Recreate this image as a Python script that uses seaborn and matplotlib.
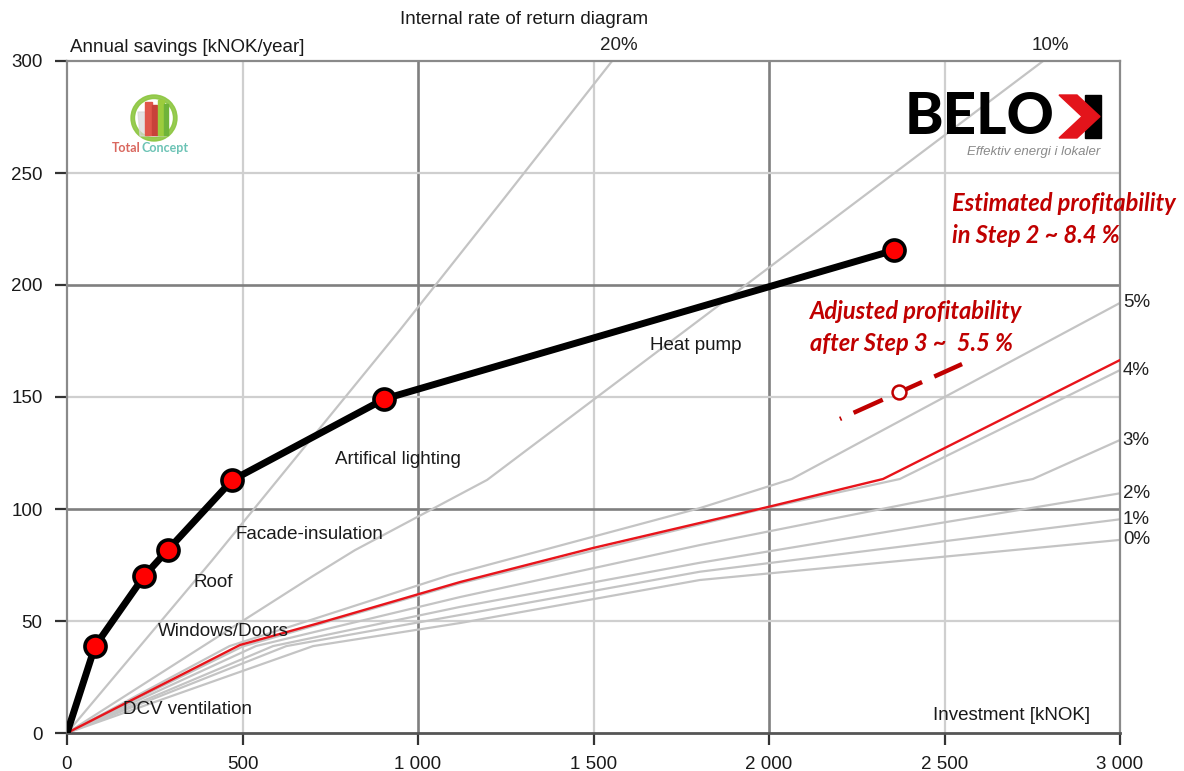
import matplotlib
matplotlib.use("Agg")
import matplotlib.pyplot as plt
import numpy as np
import pandas as pd
import seaborn as sns
from matplotlib.patches import Polygon, Rectangle, Wedge

# Measure path: cumulative investment [kNOK] vs annual savings [kNOK/year]
measures = ["Start", "DCV ventilation", "Windows/Doors", "Roof",
            "Facade-insulation", "Artifical lighting", "Heat pump"]
invest = [0, 80, 220, 287, 471, 904, 2356]
savings = [0, 38.8, 70.1, 81.7, 112.9, 149.1, 215.5]

# Internal-rate-of-return isolines (investment, savings)
irr_20_x = [0, 413, 949, 1242, 1553]
irr_20_y = [0, 77, 180, 238, 300]
irr_10_x = [0, 700, 820, 1197, 2781]
irr_10_y = [0, 70, 81.6, 113, 300]
irr_5_x = [0, 463, 721, 1091, 1803, 2065, 3000]
irr_5_y = [0, 38.8, 51.8, 70.5, 100.4, 113.4, 192]
irr_4_x = [0, 500, 1120, 1997, 2373, 3000]
irr_4_y = [0, 38.6, 66.8, 100.6, 113.4, 162]
irr_3_x = [0, 538, 721, 1120, 1803, 2752, 3000]
irr_3_y = [0, 38.8, 45.7, 60.7, 83.9, 113.4, 130.8]
irr_2_x = [0, 587, 721, 1120, 1803, 3000]
irr_2_y = [0, 38.8, 43.2, 56.3, 76.0, 107]
irr_1_x = [0, 625, 721, 1120, 1803, 3000]
irr_1_y = [0, 38.8, 41.5, 52.7, 72.0, 95.4]
irr_0_x = [0, 701, 1120, 1803, 3000]
irr_0_y = [0, 38.8, 49.1, 68.3, 86.2]

# Adjusted IRR curve (red)
adj_x = [0, 493, 721, 1120, 1499, 1997, 2325, 3000]
adj_y = [0, 39.3, 49.2, 67.4, 82.6, 100.9, 113.4, 166.5]

# Adjusted profitability marker
adj_mark_x = [2202, 2550]
adj_mark_y = [140.2, 164.7]
adj_point_x = [2370]
adj_point_y = [152.2]

x_ticks = [0, 500, 1000, 1500, 2000, 2500, 3000]
x_tick_labels = ["0", "500", "1 000", "1 500", "2 000", "2 500", "3 000"]
y_ticks = [0, 50, 100, 150, 200, 250, 300]

W, H = 1184, 771
sns.set_style("white")
plt.rcParams["font.family"] = ["Liberation Sans", "DejaVu Sans"]

FS = 13.5

fig = plt.figure(figsize=(W / 100, H / 100), dpi=100)
ax = fig.add_axes([67 / W, 38 / H, 1053 / W, 672 / H])
ax.set_xlim(0, 3000)
ax.set_ylim(0, 300)

# grid: dark at round thousands/hundreds, light in between
for xv in [500, 1500, 2500]:
    ax.axvline(xv, color="#cfcfcf", lw=1.6, zorder=0)
for xv in [1000, 2000]:
    ax.axvline(xv, color="#7f7f7f", lw=1.9, zorder=0)
for yv in [50, 150, 250]:
    ax.axhline(yv, color="#cfcfcf", lw=1.6, zorder=0)
for yv in [100, 200]:
    ax.axhline(yv, color="#7f7f7f", lw=1.9, zorder=0)

# IRR isolines
iso = [("20%", irr_20_x, irr_20_y), ("10%", irr_10_x, irr_10_y),
       ("5%", irr_5_x, irr_5_y), ("4%", irr_4_x, irr_4_y),
       ("3%", irr_3_x, irr_3_y), ("2%", irr_2_x, irr_2_y),
       ("1%", irr_1_x, irr_1_y), ("0%", irr_0_x, irr_0_y)]
for name, xs, ys in iso:
    df = pd.DataFrame({"x": xs, "y": ys})
    sns.lineplot(data=df, x="x", y="y", sort=False, estimator=None,
                 color="#c4c4c4", lw=1.6, ax=ax, zorder=2)
    if ys[-1] >= 300:
        ax.text(xs[-1] + 20, ys[-1] + 3, name, ha="center", va="bottom",
                fontsize=FS, color="#222222", clip_on=False)
    else:
        ax.text(xs[-1] + 8, ys[-1], name, ha="left", va="center",
                fontsize=FS, color="#222222", clip_on=False)

# adjusted curve
df_adj = pd.DataFrame({"x": adj_x, "y": adj_y})
sns.lineplot(data=df_adj, x="x", y="y", sort=False, estimator=None,
             color="#e8141b", lw=1.7, ax=ax, zorder=3)

# measure path
df_path = pd.DataFrame({"x": invest, "y": savings, "measure": measures})
sns.lineplot(data=df_path, x="x", y="y", sort=False, estimator=None,
             color="black", lw=5, ax=ax, zorder=4)
sns.scatterplot(data=df_path.iloc[1:], x="x", y="y", s=230, color="#ff0000",
                edgecolor="black", linewidth=2.6, ax=ax, zorder=5)

# adjusted profitability marker (broken dash with an open circle)
df_m = pd.DataFrame({"x": adj_mark_x, "y": adj_mark_y})
sns.lineplot(data=df_m, x="x", y="y", sort=False, estimator=None,
             color="#c00000", lw=3.2, ax=ax, zorder=6)
ax.lines[-1].set_linestyle((0, (0.37, 3.0, 7.2, 5.7, 4.0, 3.0, 7.2, 30)))
ax.lines[-1].set_dash_capstyle("butt")
ax.plot(adj_point_x, adj_point_y, marker="o", ms=10, mfc="white",
        mec="#c00000", mew=1.8, zorder=7, ls="none")

# measure labels
lab_pos = {"DCV ventilation": (160, 10.3), "Windows/Doors": (259, 45.5),
           "Roof": (359, 67), "Facade-insulation": (481, 88.4),
           "Artifical lighting": (763, 121.9), "Heat pump": (1661, 173.2)}
for m in measures[1:]:
    xx, yy = lab_pos[m]
    ax.text(xx, yy, m, fontsize=FS, color="#1a1a1a", va="center", ha="left",
            zorder=8)
ax.text(2915, 8, "Investment [kNOK]", fontsize=FS, color="#1a1a1a",
        va="center", ha="right")

# red annotations
red_font = dict(fontsize=17, color="#c00000", fontweight="bold",
                fontstyle="italic", family=["Lato", "DejaVu Sans"],
                ha="left", va="center", clip_on=False)
ax.text(2521, 236.6, "Estimated profitability", **red_font)
ax.text(2521, 221.9, "in Step 2 ~ 8.4 %", **red_font)
ax.text(2117, 188, "Adjusted profitability", **red_font)
ax.text(2117, 174, "after Step 3 ~  5.5 %", **red_font)

# axes styling
ax.set_xlabel("")
ax.set_ylabel("")
ax.set_xticks(x_ticks)
ax.set_xticklabels(x_tick_labels)
ax.set_yticks(y_ticks)
ax.tick_params(axis="both", direction="out", length=8.5, width=1.6,
               color="#333333", labelsize=FS, labelcolor="#1a1a1a",
               bottom=True, left=True)
ax.tick_params(axis="x", pad=8)
ax.tick_params(axis="y", pad=9)
for s in ["left", "top", "right"]:
    ax.spines[s].set_color("#8a8a8a")
    ax.spines[s].set_linewidth(1.6)
ax.spines["bottom"].set_color("#555555")
ax.spines["bottom"].set_linewidth(2)

fig.text(524 / W, 1 - 19 / H, "Internal rate of return diagram", ha="center",
         va="center", fontsize=FS, color="#1a1a1a")
fig.text(70 / W, 1 - 47 / H, "Annual savings [kNOK/year]", ha="left",
         va="center", fontsize=FS, color="#1a1a1a")

# logos drawn on an overlay in pixel coordinates
ov = fig.add_axes([0, 0, 1, 1], facecolor="none")
ov.set_xlim(0, W)
ov.set_ylim(H, 0)
ov.axis("off")

# TotalConcept emblem
ov.add_patch(Wedge((154, 118), 23, 0, 360, width=3.5, color="#8cc63f",
                   alpha=0.9))
ov.add_patch(Polygon([[138, 112], [168, 112], [166, 136], [140, 136]],
                     closed=True, color="#d8d8d8", alpha=0.7))
ov.add_patch(Rectangle((145, 102), 7, 33, color="#e0564a"))
ov.add_patch(Rectangle((152, 105), 5, 30, color="#c8413a"))
ov.add_patch(Rectangle((158, 100), 6, 35, color="#9ccc3d"))
ov.add_patch(Rectangle((164, 104), 4, 31, color="#6fb33a"))
ov.text(112, 148, "Total", fontsize=9, fontweight="bold", color="#d9675e",
        va="center", ha="left", family=["Lato", "DejaVu Sans"])
ov.text(141, 148, "Concept", fontsize=9, fontweight="bold",
        color="#6cc3b5", va="center", ha="left",
        family=["Lato", "DejaVu Sans"])

# BELOK wordmark
ov.text(905, 117, "BELO", fontsize=42, fontweight="black", color="black",
        va="center", ha="left", family=["Lato", "DejaVu Sans"])
ov.add_patch(Rectangle((1085, 95), 16, 43, color="black"))
ov.add_patch(Polygon([[1059, 95], [1077, 95], [1100, 116.5], [1077, 138],
                      [1059, 138], [1082, 116.5]], closed=True,
                     color="#e3141b"))
ov.text(1100, 152, "Effektiv energi i lokaler", fontsize=9.5,
        fontstyle="italic", color="#8a8a8a", va="center", ha="right")

fig.savefig("out.png", dpi=100)
